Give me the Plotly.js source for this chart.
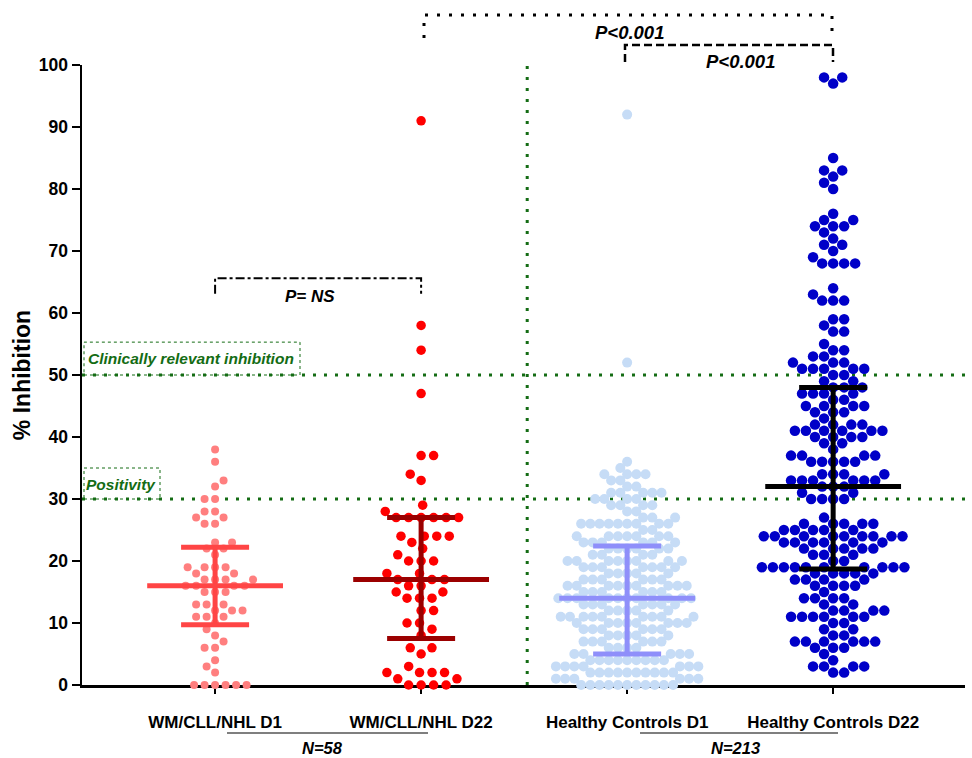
<!DOCTYPE html>
<html>
<head>
<meta charset="utf-8">
<script src="https://cdn.plot.ly/plotly-3.0.1.min.js"></script>
<style>html,body{margin:0;padding:0;background:#fff;}#chart{width:972px;height:758px;}</style>
</head>
<body>
<div id="chart"></div>
<script>
// ---------- data ----------
const categories = ["WM/CLL/NHL D1", "WM/CLL/NHL D22", "Healthy Controls D1", "Healthy Controls D22"];

const wmD1 = [38,36,33,32,30,30,28,28,27,27,26,26,23,23,22,22,21,19,19,19,19,18,18,17,17,17,17,
  16,16,16,16,15,15,15,13,13,13,12,12,12,11,11,11,10,9,8,7,6,6,4,3,2,0,0,0,0,0,0];

const wmD22 = [91,58,54,47,37,37,34,33,29,28,27,27,27,27,27,27,24,24,24,24,23,22,21,20,20,20,18,18,
  17,17,17,16,16,15,15,14,14,14,12,12,10,10,9,8,6,6,5,3,2,2,2,2,1,1,0,0,0,0];

const hcD1 = [92,52,36,35,34,34,34,34,33,33,32,32,31,31,31,31,31,30,30,30,30,29,29,29,29,28,28,27,27,27,
  26,26,26,26,26,26,26,26,26,25,25,24,24,24,24,24,24,24,23,23,23,23,23,23,22,22,22,22,22,22,21,21,21,21,
  20,20,20,20,20,20,20,20,19,19,19,19,19,19,19,18,18,18,18,18,17,17,17,17,17,17,
  16,16,16,16,16,16,16,16,16,15,15,15,15,15,15,14,14,14,14,14,14,14,14,14,14,
  13,13,13,13,13,13,13,12,12,12,12,12,11,11,11,11,11,11,11,11,11,10,10,10,10,10,10,10,10,
  9,9,9,9,9,9,8,8,8,8,8,7,7,7,7,7,7,6,6,6,6,5,5,5,5,5,4,4,4,4,4,4,4,4,4,
  3,3,3,3,3,3,3,2,2,2,2,2,2,2,2,2,2,1,1,1,1,1,1,0,0,0,0,0,0,0,0,0,0,0];

const hcD22 = [98,98,97,85,83,83,82,81,80,76,75,75,74,74,74,73,72,71,71,70,69,68,68,68,68,64,63,62,62,62,
  59,59,58,57,57,55,54,54,53,53,52,52,52,51,51,51,51,51,50,50,49,49,48,48,48,47,47,47,47,46,46,
  45,45,45,45,44,44,44,43,42,42,42,42,41,41,41,41,41,41,40,40,40,40,39,39,38,37,37,37,37,
  36,36,36,36,36,34,34,34,34,33,33,33,33,33,33,32,32,32,31,31,30,30,30,30,27,
  26,26,26,26,26,25,25,25,25,25,24,24,24,24,24,24,24,24,24,23,23,23,23,23,23,22,22,22,22,22,
  21,21,21,20,20,19,19,19,19,19,19,19,19,19,19,18,18,18,18,18,17,17,17,17,16,16,16,16,15,
  14,14,14,14,13,13,12,12,12,12,11,11,11,11,11,11,10,10,9,9,8,8,7,7,7,7,7,7,6,6,6,5,4,3,3,3,3,2,2];

// summary lines: centre, upper, lower
const centres = [16, 17, 14, 32];
const uppers  = [22.2, 27, 22.4, 48];
const lowers  = [9.7, 7.5, 5.0, 18.7];

const groups = [wmD1, wmD22, hcD1, hcD22];
const dotColors = ["#ff7f7f", "#ff0000", "#c6dcf6", "#0000c8"];
const barColors = ["#ff4545", "#9b0000", "#8f8ffa", "#000000"];
const dotSizes = [8, 9.5, 10, 10.5];
const swarmDiam = [10.5, 12.5, 9.2, 11];

// ---------- geometry ----------
const W = 972, H = 758;
const margin = {l: 82, r: 7, t: 65, b: 73};
const plotW = W - margin.l - margin.r, plotH = H - margin.t - margin.b;
const xRange = [-0.646, 3.64], yRange = [0, 100];
const pxX = plotW / (xRange[1] - xRange[0]);
const pxY = plotH / (yRange[1] - yRange[0]);

function swarm(vals, diam) {
  const order = vals.map((v, i) => i).sort((a, b) => vals[a] - vals[b]);
  const placed = [];
  const out = new Array(vals.length).fill(0);
  let flip = 1;
  order.forEach(i => {
    const yp = vals[i] * pxY;
    const iv = [];
    placed.forEach(p => {
      const dy = Math.abs(p.y - yp);
      if (dy < diam) {
        const dx = Math.sqrt(diam * diam - dy * dy);
        iv.push([p.x - dx, p.x + dx]);
      }
    });
    const cands = [0];
    iv.forEach(a => { cands.push(a[0], a[1]); });
    let best = null;
    cands.forEach(c => {
      const ok = iv.every(a => !(c > a[0] + 1e-6 && c < a[1] - 1e-6));
      if (!ok) return;
      if (best === null || Math.abs(c) < Math.abs(best) - 1e-6 ||
          (Math.abs(Math.abs(c) - Math.abs(best)) < 1e-6 && Math.sign(c) === flip)) best = c;
    });
    if (best !== 0) flip = -flip;
    placed.push({x: best, y: yp});
    out[i] = best / pxX;
  });
  return out;
}

const traces = [];
groups.forEach((vals, g) => {
  const offs = swarm(vals, swarmDiam[g]);
  traces.push({
    type: "scatter", mode: "markers", cliponaxis: false, hoverinfo: "y",
    x: offs.map(o => g + o), y: vals,
    marker: {color: dotColors[g], size: dotSizes[g], line: {width: 0}},
    showlegend: false
  });
});
groups.forEach((vals, g) => {
  traces.push({
    type: "scatter", mode: "markers", cliponaxis: false, hoverinfo: "skip",
    x: [g], y: [centres[g]],
    marker: {symbol: "line-ew", size: 97, color: barColors[g], line: {width: 5, color: barColors[g]}},
    error_y: {type: "data", symmetric: false, array: [uppers[g] - centres[g]], arrayminus: [centres[g] - lowers[g]],
      width: 34, thickness: 5, color: barColors[g]},
    showlegend: false
  });
});

const green = "#146c14";
const px2paperX = px => (px - margin.l) / plotW;
const px2paperY = py => (margin.t + plotH - py) / plotH;

const shapes = [
  {type: "line", xref: "paper", yref: "y", x0: 0, x1: 1, y0: 50, y1: 50, line: {color: green, width: 3, dash: "3px,8px"}, layer: "below"},
  {type: "line", xref: "paper", yref: "y", x0: 0, x1: 1, y0: 30, y1: 30, line: {color: green, width: 3, dash: "3px,8px"}, layer: "below"},
  {type: "line", xref: "x", yref: "y", x0: 1.515, x1: 1.515, y0: 0, y1: 100, line: {color: green, width: 3, dash: "3px,8px"}, layer: "below"},
  {type: "rect", xref: "paper", yref: "y", x0: px2paperX(84), x1: px2paperX(300), y0: 50, y1: 55.3, line: {color: green, width: 1, dash: "dot"}},
  {type: "rect", xref: "paper", yref: "y", x0: px2paperX(84), x1: px2paperX(160), y0: 30, y1: 35, line: {color: green, width: 1, dash: "dot"}},
  {type: "path", xref: "x", yref: "y", path: "M 0,63.1 L 0,65.6 L 1,65.6 L 1,63.1", line: {color: "#000", width: 2, dash: "dashdot"}},
  {type: "path", xref: "paper", yref: "paper",
    path: `M ${px2paperX(424)},${px2paperY(38)} L ${px2paperX(424)},${px2paperY(15)} L ${px2paperX(832)},${px2paperY(15)} L ${px2paperX(832)},${px2paperY(38)}`,
    line: {color: "#000", width: 3, dash: "3px,9px"}},
  {type: "path", xref: "paper", yref: "paper",
    path: `M ${px2paperX(625)},${px2paperY(62)} L ${px2paperX(625)},${px2paperY(45)} L ${px2paperX(833)},${px2paperY(45)} L ${px2paperX(833)},${px2paperY(62)}`,
    line: {color: "#000", width: 2.5, dash: "8px,4px"}},
  {type: "line", xref: "paper", yref: "paper", x0: px2paperX(227), x1: px2paperX(428), y0: px2paperY(733), y1: px2paperY(733), line: {color: "#555", width: 1.5}},
  {type: "line", xref: "paper", yref: "paper", x0: px2paperX(640), x1: px2paperX(838), y0: px2paperY(733), y1: px2paperY(733), line: {color: "#555", width: 1.5}}
];

const bi = (size, color) => ({family: "Liberation Sans, Arial, sans-serif", size: size, color: color || "#000", weight: "bold", style: "italic"});
const ann = (xref, yref, x, y, text, font) => ({xref, yref, x, y, text, font, showarrow: false, xanchor: "center", yanchor: "middle"});
const annotations = [
  ann("paper", "paper", px2paperX(629), px2paperY(32), "P<0.001", bi(18.5)),
  ann("paper", "paper", px2paperX(740), px2paperY(61), "P<0.001", bi(18.5)),
  ann("x", "y", 0.46, 62.6, "P= NS", bi(17)),
  ann("paper", "paper", px2paperX(191), px2paperY(358), "Clinically relevant inhibition", bi(15.5, green)),
  ann("paper", "paper", px2paperX(121), px2paperY(484), "Positivity", bi(15.5, green)),
  ann("paper", "paper", px2paperX(322), px2paperY(748), "N=58", bi(16.5)),
  ann("paper", "paper", px2paperX(735), px2paperY(748), "N=213", bi(16.5))
];

const boldFont = (size) => ({family: "Liberation Sans, Arial, sans-serif", size: size, color: "#000", weight: "bold"});

const layout = {
  width: W, height: H, margin: margin,
  paper_bgcolor: "#fff", plot_bgcolor: "#fff",
  showlegend: false,
  xaxis: {
    range: xRange, tickmode: "array", tickvals: [0, 1, 2, 3], ticktext: categories,
    showline: true, linecolor: "#000", linewidth: 2.5, ticks: "outside", ticklen: 6, tickwidth: 2, tickcolor: "#000",
    tickfont: boldFont(17), ticklabelstandoff: 14, showgrid: false, zeroline: false, layer: "below traces", fixedrange: true
  },
  yaxis: {
    range: yRange, tickmode: "array", tickvals: [0,10,20,30,40,50,60,70,80,90,100],
    showline: true, linecolor: "#000", linewidth: 2.5, ticks: "outside", ticklen: 8, tickwidth: 2.5, tickcolor: "#000",
    tickfont: boldFont(17.5), showgrid: false, zeroline: false, layer: "below traces", fixedrange: true,
    title: {text: "% Inhibition", font: boldFont(23), standoff: 2}
  },
  shapes: shapes,
  annotations: annotations
};

Plotly.newPlot("chart", traces, layout, {displayModeBar: false, staticPlot: true});
</script>
</body>
</html>
